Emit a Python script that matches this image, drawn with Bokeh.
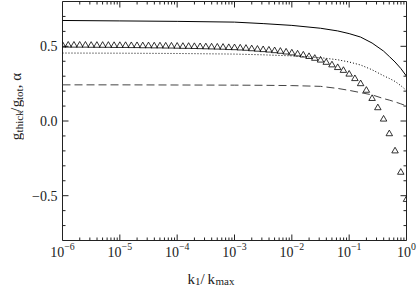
import math
from bokeh.plotting import figure
from bokeh.layouts import row, column
from bokeh.models import Range1d, FixedTicker, LogTicker, CustomJSTickFormatter, Label
from bokeh.embed import file_html
from bokeh.resources import INLINE

# ---- data ----
k_line = [1e-6, 1e-5, 1e-4, 1e-3, 3.16e-3, 1e-2, 3.16e-2, 6.31e-2, 0.1,
          0.158, 0.251, 0.398, 0.501, 0.631, 0.794, 1.0]
g_solid = [0.673, 0.670, 0.667, 0.662, 0.652, 0.640, 0.621, 0.603, 0.585,
           0.562, 0.522, 0.468, 0.432, 0.395, 0.352, 0.300]
g_dotted = [0.455, 0.454, 0.452, 0.448, 0.443, 0.436, 0.424, 0.410, 0.395,
            0.375, 0.343, 0.303, 0.285, 0.265, 0.237, 0.204]
g_dashed = [0.242, 0.242, 0.241, 0.240, 0.239, 0.237, 0.232, 0.218, 0.205,
            0.190, 0.175, 0.150, 0.140, 0.128, 0.115, 0.101]

# triangles: one point every 0.1 decade from 1e-6 to 1
tri_exp = [e / 10 for e in range(-60, 1)]
alpha_tri = [0.507, 0.507, 0.507, 0.507, 0.507, 0.506, 0.506, 0.506, 0.506, 0.505,
             0.505, 0.505, 0.504, 0.504, 0.503, 0.503, 0.502, 0.502, 0.501, 0.501,
             0.500, 0.499, 0.499, 0.498, 0.497, 0.496, 0.495, 0.494, 0.493, 0.491,
             0.490, 0.488, 0.486, 0.483, 0.480, 0.477, 0.474, 0.470, 0.466, 0.461,
             0.455, 0.448, 0.441, 0.431, 0.419, 0.407, 0.392, 0.375, 0.357, 0.338,
             0.313, 0.283, 0.249, 0.205, 0.150, 0.088, 0.012, -0.086, -0.201, -0.344,
             -0.526]
k_tri = [10 ** e for e in tri_exp]

# axis ticks
x_major = [1e-6, 1e-5, 1e-4, 1e-3, 1e-2, 1e-1, 1.0]
x_minor = [m * d for d in x_major[:-1] for m in range(2, 10)]
y_major = [-0.5, 0.0, 0.5]
y_minor = [-0.7, -0.6, -0.4, -0.3, -0.2, -0.1, 0.1, 0.2, 0.3, 0.4, 0.6, 0.7]
X0, X1, Y0, Y1 = 1e-6, 1.0, -0.8, 0.8

FONT = "Liberation Serif"
INK = "#222222"
H_MAIN = 262

# ---------------- main plot ----------------
p = figure(width=395, height=H_MAIN, x_axis_type="log", title=None,
           x_range=Range1d(X0, X1), y_range=Range1d(Y0, Y1),
           output_backend="svg", toolbar_location=None,
           min_border_left=38, min_border_right=13, min_border_top=1,
           min_border_bottom=22)
p.outline_line_color = INK
p.outline_line_width = 1
p.grid.visible = False

for ax in (p.xaxis[0], p.yaxis[0]):
    ax.axis_line_color = None
    ax.major_tick_line_color = None
    ax.minor_tick_line_color = None
    ax.major_tick_in = 0
    ax.major_tick_out = 0
    ax.minor_tick_in = 0
    ax.minor_tick_out = 0
    ax.major_label_text_font = FONT
    ax.major_label_text_color = INK
    ax.major_label_text_font_size = "14px"
    ax.axis_label = None

p.xaxis[0].ticker = LogTicker()
p.xaxis[0].major_label_standoff = 2
p.yaxis[0].ticker = FixedTicker(ticks=y_major)
p.yaxis[0].formatter = CustomJSTickFormatter(
    code="return (tick < 0 ? '\u2212' : '') + Math.abs(tick).toFixed(1);")
p.yaxis[0].major_label_standoff = 5


# inward tick marks on all four sides (dash markers centred on the frame edge,
# the outer half is clipped by the frame)
def xticks(vals, size):
    n = len(vals)
    p.scatter(vals + vals, [Y0] * n + [Y1] * n, marker="dash", angle=math.pi / 2,
              size=size, line_color=INK, line_width=1)


def yticks(vals, size):
    n = len(vals)
    p.scatter([X0] * n + [X1] * n, vals + vals, marker="dash", angle=0,
              size=size, line_color=INK, line_width=1)


xticks(x_major, 12)
xticks(x_minor, 6)
yticks(y_major, 12)
yticks(y_minor, 6)

# ---- curves ----
p.line(k_line, g_solid, line_color="black", line_width=1)
p.line(k_line, g_dotted, line_color="black", line_width=1, line_dash="1 2")
p.line(k_line, g_dashed, line_color="#444444", line_width=1, line_dash="8 4")
p.scatter(k_tri, alpha_tri, marker="triangle", size=6.5, fill_color=None,
          line_color="black", line_width=0.8)


def strip(w, h):
    f = figure(width=w, height=h, title=None,
               x_range=Range1d(0, w), y_range=Range1d(0, h),
               output_backend="svg", toolbar_location=None,
               x_axis_location=None, y_axis_location=None,
               min_border_left=0, min_border_right=0, min_border_top=0,
               min_border_bottom=0)
    f.outline_line_color = None
    f.grid.visible = False
    return f


# ---------------- y axis title strip ----------------
ly = strip(24, H_MAIN)
YS = 110  # start of the title, measured from the strip bottom


def ypiece(dy, txt, size, sub):
    ly.add_layout(Label(x=18 if sub else 15, y=YS + dy, text=txt,
                        text_font=FONT, text_font_size=size, text_color=INK,
                        text_align="left", text_baseline="alphabetic",
                        angle=math.pi / 2))


ypiece(0, "g", "15px", False)
ypiece(8.5, "thick", "11px", True)
ypiece(31, "/", "15px", False)
ypiece(36, "g", "15px", False)
ypiece(44, "tot", "11px", True)
ypiece(57, ", \u03b1", "15px", False)

# ---------------- x axis title strip ----------------
lx = strip(419, 286 - H_MAIN)


def xpiece(x, y, txt, size):
    lx.add_layout(Label(x=x, y=y, text=txt, text_font=FONT, text_font_size=size,
                        text_color=INK, text_align="left",
                        text_baseline="alphabetic"))


xpiece(187, 8, "k", "15px")
xpiece(194.5, 5.5, "1", "11px")
xpiece(200, 8, "/", "15px")
xpiece(207, 8, "k", "15px")
xpiece(215, 5.5, "max", "11px")

layout = column(row(ly, p), lx)
open("out.html", "w").write(file_html(layout, INLINE))
